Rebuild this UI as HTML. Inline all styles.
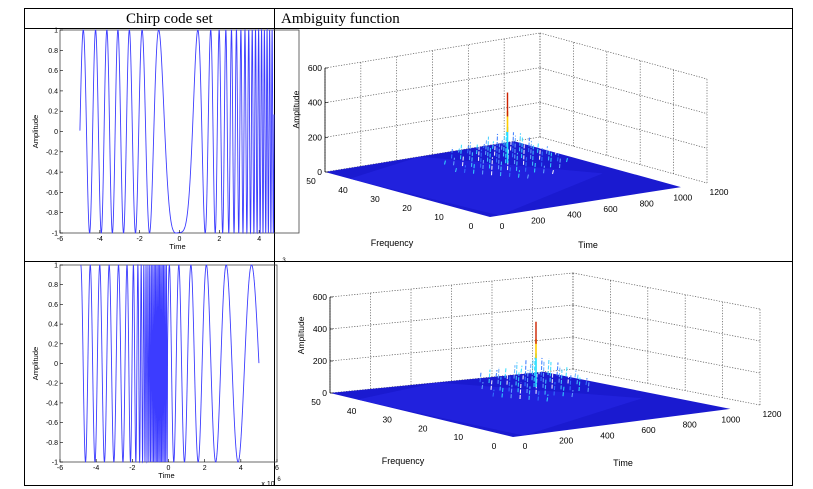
<!DOCTYPE html>
<html><head><meta charset="utf-8">
<style>
body{margin:0;background:#fff;width:813px;height:489px;overflow:hidden;font-family:"Liberation Sans",sans-serif}
svg{position:absolute;left:0;top:0}
</style></head><body>
<svg id="s" width="813" height="489" xmlns="http://www.w3.org/2000/svg">
<rect x="24.5" y="8.5" width="768" height="477" fill="none" stroke="#000"/>
<line x1="24" y1="28.5" x2="792" y2="28.5" stroke="#000"/>
<line x1="24" y1="261.5" x2="792" y2="261.5" stroke="#000"/>
<line x1="274.5" y1="8" x2="274.5" y2="486" stroke="#000"/>
<text x="126" y="23" font-family="Liberation Serif" font-size="15">Chirp code set</text>
<text x="281" y="23" font-family="Liberation Serif" font-size="15">Ambiguity function</text>
<g id="g"></g>
</svg>
<script>
const NS="http://www.w3.org/2000/svg",G=document.getElementById('g');
function el(t,a,txt){const e=document.createElementNS(NS,t);for(const k in a)e.setAttribute(k,a[k]);if(txt!==undefined)e.textContent=txt;G.appendChild(e);return e;}
function tx(x,y,s,fs,anchor,rot){const a={x:x,y:y,'font-size':fs||8,'text-anchor':anchor||'middle',fill:'#000'};if(rot)a.transform=`rotate(-90 ${x} ${y})`;el('text',a,s);}
function plot2d(x0,x1,y0,y1,phase,t0,t1,useCos,clipR){
  const X=t=>x0+(t+6)/12*(x1-x0),Y=v=>y1-(v+1)/2*(y1-y0);
  el('rect',{x:x0,y:y0,width:x1-x0,height:y1-y0,fill:'none',stroke:'#444','stroke-width':0.8});
  let d='',ph=0,dt=0.001;
  for(let t=t0;t<=t1;t+=dt){ph+=phase(t)*dt;const v=useCos?Math.cos(ph):Math.sin(ph);const px=X(t);if(px>clipR)break;d+=(d?'L':'M')+px.toFixed(2)+' '+Y(v).toFixed(2);}
  el('path',{d:d,fill:'none',stroke:'#3c3cff','stroke-width':0.9});
  for(let i=-6;i<=6;i+=2){const px=X(i);if(px>clipR+4)continue;tx(px,y1+8,String(i),7);el('line',{x1:px,y1:y1,x2:px,y2:y1-3,stroke:'#000','stroke-width':0.6});}
  for(let k=0;k<=10;k++){const v=-1+k*0.2;const py=Y(v);tx(x0-2,py+2.5,(Math.abs(v)<1e-9?'0':(+v.toFixed(1)).toString()),7,'end');el('line',{x1:x0,y1:py,x2:x0+3,y2:py,stroke:'#000','stroke-width':0.6});}
  tx((x0+x1)/2-2,y1+16,'Time',7.5);
  tx(x0-22,(y0+y1)/2,'Amplitude',7.5,'middle',true);
}
plot2d(60,299,30,233,t=>Math.abs(6.6*t+0.96*t*t),-5,5.2,false,274);
plot2d(60,277,265,462,t=>t<-0.05?12+75*Math.exp(-(t+0.5)*(t+0.5)/1.0):14/(1+0.55*t),-4.85,5,true,277);
tx(268,486,'x 10',7);tx(279,481,'6',6);
tx(284,262,'3',6);
function plot3d(L,F,R,B,H,lab){
  const lerp=(a,b,s)=>[a[0]+(b[0]-a[0])*s,a[1]+(b[1]-a[1])*s];
  const ln=(a,b,o)=>el('line',Object.assign({x1:a[0],y1:a[1],x2:b[0],y2:b[1],stroke:'#555','stroke-width':0.7,'stroke-dasharray':'1.2 1.5'},o||{}));
  const up=(p,h)=>[p[0],p[1]-h];
  for(let i=0;i<=6;i++){const p=lerp(L,B,i/6);ln(p,up(p,H));}
  for(let i=0;i<=5;i++){const p=lerp(B,R,i/5);ln(p,up(p,H));}
  for(let k=1;k<=3;k++){const h=H*k/3;ln(up(L,h),up(B,h));ln(up(B,h),up(R,h));}
  ln(L,B);ln(B,R);
  el('line',{x1:L[0],y1:L[1],x2:L[0],y2:L[1]-H,stroke:'#000','stroke-width':0.8});
  const s=0.88;const Rs=lerp(F,R,s),Bs=lerp(L,B,s);
  el('polygon',{points:[L,F,Rs,Bs].map(p=>p.join(',')).join(' '),fill:'#1a1ad0'});
  el('polygon',{points:[lerp(L,F,0.15),lerp(F,Rs,0.05),lerp(lerp(F,Rs,0.05),lerp(Bs,Rs,0.6),0.9),lerp(Bs,L,0.5)].map(p=>p.join(',')).join(' '),fill:'#2626e6',opacity:0.6});
  const c0=lerp(lerp(L,B,0.5),lerp(F,R,0.5),0.5);
  const c=[c0[0]-10,c0[1]-14];
  const cols=['#33ddff','#66aaff','#ffffff','#44ccff','#3377ff'];
  for(let i=-6;i<=6;i++)for(let j=-2;j<=2;j++){
    const px=c[0]+i*9+j*-7, py=c[1]+j*6+i*0.8;
    const h=Math.max(0,(32-Math.abs(i)*3.5-Math.abs(j)*7))*(H/104);
    if(h<4)continue;
    el('line',{x1:px,y1:py,x2:px+1,y2:py-h,stroke:cols[(i+j+20)%5],'stroke-width':1.1,opacity:0.9,'stroke-dasharray':'4 1.5'});
  }
  const pk=[c[0]+2,c[1]];
  el('line',{x1:pk[0],y1:pk[1],x2:pk[0],y2:pk[1]-H*0.35,stroke:'#22ddff','stroke-width':1.6});
  el('line',{x1:pk[0],y1:pk[1]-H*0.3,x2:pk[0],y2:pk[1]-H*0.5,stroke:'#ffcc00','stroke-width':1.6});
  el('line',{x1:pk[0],y1:pk[1]-H*0.45,x2:pk[0],y2:pk[1]-H*0.68,stroke:'#cc2200','stroke-width':1.4});
  for(let k=0;k<=3;k++){const y=L[1]-H*k/3;tx(L[0]-3,y+3,String(k*200),8.5,'end');el('line',{x1:L[0],y1:y,x2:L[0]+3,y2:y,stroke:'#000','stroke-width':0.6});}
  tx(L[0]-26,L[1]-H*0.6,'Amplitude',8.5,'middle',true);
  for(let k=0;k<=5;k++){const p=lerp(L,F,k/5);tx(p[0]-14+k*-1,p[1]+12,String(50-k*10),8.5);}
  for(let k=0;k<=6;k++){const p=lerp(F,R,k/6);tx(p[0]+12,p[1]+12,String(k*200),8.5);}
  tx(lab[0],lab[1],'Frequency',9);tx(lab[2],lab[3],'Time',9);
}
plot3d([325,172],[490,217],[707,183],[540,137],104,[392,246,588,248]);
plot3d([330,393],[513,437],[760,405],[573,369],96,[403,464,623,466]);
</script>
</body></html>
